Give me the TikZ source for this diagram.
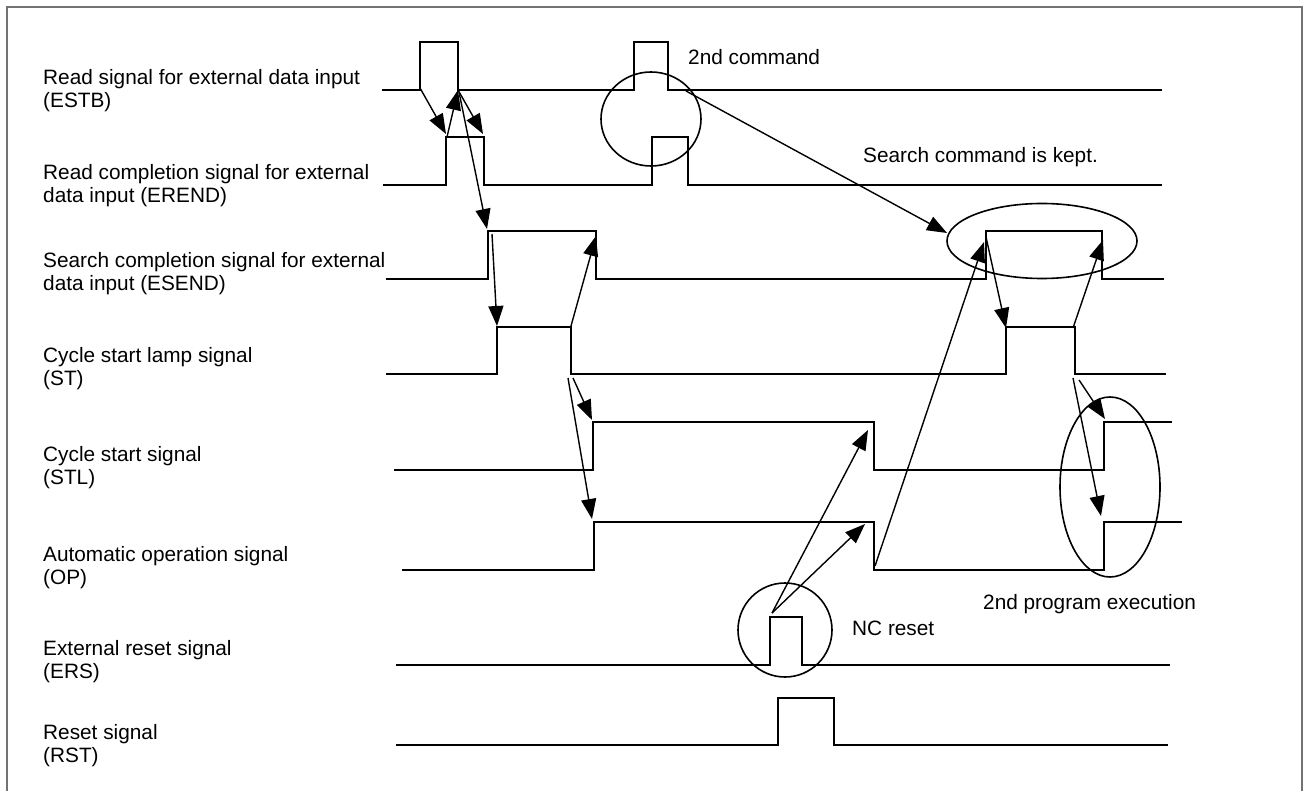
\documentclass[tikz,border=0pt]{standalone}
\usepackage{fontspec}
\setmainfont{Liberation Sans}
\usetikzlibrary{arrows.meta,shapes.geometric}
\begin{document}
\begin{tikzpicture}[x=1pt,y=-1pt,
  sig/.style={line width=1.8pt,line join=miter},
  arr/.style={line width=1.4pt,-{Triangle[length=20pt,width=15pt]}},
  ring/.style={draw,line width=1.6pt,ellipse,inner sep=0pt},
  lbl/.style={anchor=base west,align=left,inner sep=0pt,font=\fontsize{20.8}{23}\selectfont},
  note/.style={anchor=base west,inner sep=0pt,font=\fontsize{20.8}{23}\selectfont}]
\useasboundingbox (0,0) rectangle (1304,791);
\fill[white] (0,0) rectangle (1304,791);
% frame
\draw[line width=2.5pt,black!55] (7,800) -- (7,7) -- (1302,7) -- (1302,800);

% labels (baseline of last line)
\node[lbl] (lESTB) at (43,108) {Read signal for external data input\\(ESTB)};
\node[lbl] (lEREND) at (43,203) {Read completion signal for external\\data input (EREND)};
\node[lbl] (lESEND) at (43,291) {Search completion signal for external\\data input (ESEND)};
\node[lbl] (lST) at (43,386) {Cycle start lamp signal\\(ST)};
\node[lbl] (lSTL) at (43,484) {Cycle start signal\\(STL)};
\node[lbl] (lOP) at (43,584) {Automatic operation signal\\(OP)};
\node[lbl] (lERS) at (43,678) {External reset signal\\(ERS)};
\node[lbl] (lRST) at (43,762) {Reset signal\\(RST)};

\node[note] (n2nd) at (688,65) {2nd command};
\node[note] (nkept) at (863,163) {Search command is kept.};
\node[note] (nexec) at (983,609) {2nd program execution};
\node[note] (nnc) at (852,635) {NC reset};

% waveforms
\draw[sig] (382,90) -- (420,90) -- (420,42) -- (458,42) -- (458,90) -- (634,90) -- (634,42) -- (668,42) -- (668,90) -- (1162,90);
\draw[sig] (383,185) -- (446,185) -- (446,137) -- (484,137) -- (484,185) -- (652,185) -- (652,137) -- (688,137) -- (688,185) -- (1162,185);
\draw[sig] (386,279) -- (488,279) -- (488,231) -- (596,231) -- (596,279) -- (986,279) -- (986,231) -- (1102,231) -- (1102,279) -- (1164,279);
\draw[sig] (386,374) -- (497,374) -- (497,327) -- (571,327) -- (571,374) -- (1006,374) -- (1006,327) -- (1075,327) -- (1075,374) -- (1166,374);
\draw[sig] (394,470) -- (593,470) -- (593,422) -- (874,422) -- (874,470) -- (1104,470) -- (1104,422) -- (1172,422);
\draw[sig] (402,570) -- (594,570) -- (594,522) -- (874,522) -- (874,570) -- (1104,570) -- (1104,522) -- (1182,522);
\draw[sig] (396,665) -- (770,665) -- (770,617) -- (802,617) -- (802,665) -- (1170,665);
\draw[sig] (396,745) -- (778,745) -- (778,698) -- (834,698) -- (834,745) -- (1168,745);

% rings
\node[ring,minimum width=100pt,minimum height=94pt] (c2nd) at (651,119) {};
\node[ring,minimum width=190pt,minimum height=75pt] (ekept) at (1042,241) {};
\node[ring,minimum width=100pt,minimum height=180pt] (eexec) at (1110,487) {};
\node[ring,minimum width=94pt,minimum height=94pt] (cnc) at (785,630) {};

% edge points
\coordinate (estbR1) at (420,88);
\coordinate (estbF1) at (458,90);
\coordinate (estbF1a) at (459,92);
\coordinate (estbF2) at (686,91);
\coordinate (erendR1) at (446,134);
\coordinate (erendR1b) at (447,137);
\coordinate (erendF1) at (483,134);
\coordinate (esendR1) at (487,229);
\coordinate (esendR1b) at (492,234);
\coordinate (esendF1) at (596,236);
\coordinate (esendR2) at (984,242);
\coordinate (esendR2b) at (986,237);
\coordinate (esendF2) at (1103,240);
\coordinate (kept) at (947,233);
\coordinate (stR1) at (497,326);
\coordinate (stF1) at (571,326);
\coordinate (stF1a) at (568,378);
\coordinate (stF1b) at (573,378);
\coordinate (stR2) at (1006,328);
\coordinate (stF2) at (1073,328);
\coordinate (stF2a) at (1073,378);
\coordinate (stF2b) at (1079,380);
\coordinate (stlR1) at (592,420);
\coordinate (stlF1) at (868,430);
\coordinate (stlR2) at (1105,419);
\coordinate (opR1) at (592,519);
\coordinate (opF1) at (865,524);
\coordinate (opF1b) at (875,566);
\coordinate (opR2) at (1101,516);
\coordinate (ersR) at (772,613);

% arrows
\draw[arr] (estbR1) -- (erendR1);
\draw[arr] (erendR1b) -- (estbF1);
\draw[arr] (estbF1) -- (erendF1);
\draw[arr] (estbF1a) -- (esendR1);
\draw[arr] (esendR1b) -- (stR1);
\draw[arr] (stF1) -- (esendF1);
\draw[arr] (stF1a) -- (opR1);
\draw[arr] (stF1b) -- (stlR1);
\draw[arr] (ersR) -- (stlF1);
\draw[arr] (ersR) -- (opF1);
\draw[arr] (opF1b) -- (esendR2);
\draw[arr] (estbF2) -- (kept);
\draw[arr] (esendR2b) -- (stR2);
\draw[arr] (stF2) -- (esendF2);
\draw[arr] (stF2a) -- (opR2);
\draw[arr] (stF2b) -- (stlR2);
\end{tikzpicture}
\end{document}
